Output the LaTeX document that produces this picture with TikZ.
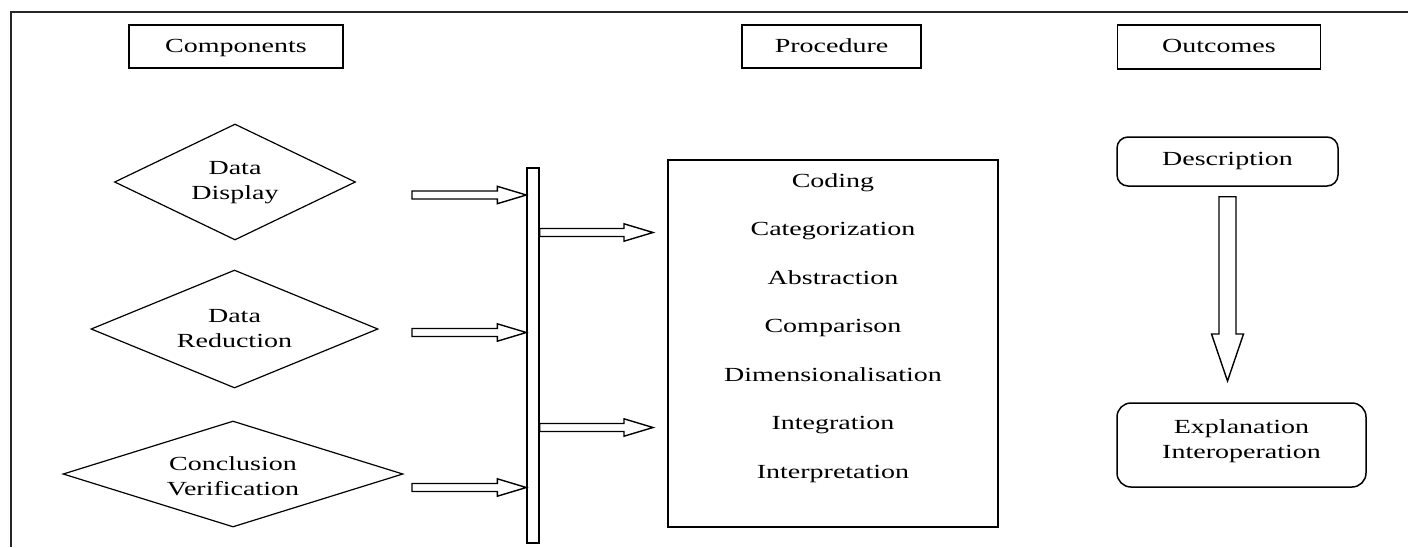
\documentclass[tikz,border=0pt]{standalone}
\usepackage{fontspec}
\setmainfont{Liberation Serif}[FakeStretch=1.4]
\usetikzlibrary{shapes.geometric,calc}
\tikzset{
  hdr/.style={draw, line width=1.6pt, inner sep=0pt, text height=14pt, text depth=3pt},
  dia/.style={draw, diamond, line width=1.2pt, inner sep=0pt},
  lbl/.style={align=center, inner sep=0pt},
  item/.style={anchor=base, inner sep=0pt},
  rbox/.style={draw, rounded corners=11pt, line width=1.5pt, inner sep=0pt, align=center},
  pbox/.style={draw, line width=1.5pt, inner sep=0pt},
  blk/.style={draw, line width=1.4pt, fill=white, line join=miter},
  frame/.style={line width=1.8pt, color=black!85}
}
\newcommand{\hblk}[2]{%
  \draw[blk] let \p1=(#1), \p2=(#2) in
    (\x1,\y1+4pt) -- (\x2-29pt,\y1+4pt) -- (\x2-29pt,\y1+8.7pt) -- (\x2,\y1)
    -- (\x2-29pt,\y1-8.7pt) -- (\x2-29pt,\y1-4pt) -- (\x1,\y1-4pt) -- cycle;}
\newcommand{\vblk}[2]{%
  \draw[blk] let \p1=(#1), \p2=(#2) in
    (\x1-8.5pt,\y1) -- (\x1-8.5pt,\y2+47pt) -- (\x1-16pt,\y2+47pt) -- (\x1,\y2)
    -- (\x1+16pt,\y2+47pt) -- (\x1+8.5pt,\y2+47pt) -- (\x1+8.5pt,\y1) -- cycle;}
\begin{document}
\begin{tikzpicture}[x=1pt,y=-1pt,font=\fontsize{20}{25}\selectfont]
\useasboundingbox (0,0) rectangle (1408,547);
\draw[frame] (1408,12) -- (11,12) -- (11,547);

% headers
\node[hdr, minimum width=214pt, minimum height=43pt] (comp) at (236,46.5) {Components};
\node[hdr, minimum width=179pt, minimum height=43pt] (proc) at (831.5,46.5) {Procedure};
\node[hdr, minimum width=203pt, minimum height=44pt] (outc) at (1219,47) {Outcomes};

% diamonds
\node[dia, minimum width=241pt, minimum height=116pt] (dd) at (235,182) {};
\node[lbl] (ddt) at (235,183) {Data\\Display};
\node[dia, minimum width=287pt, minimum height=118pt] (dr) at (234.5,329) {};
\node[lbl] (drt) at (234.5,329) {Data\\Reduction};
\node[dia, minimum width=340pt, minimum height=106pt] (cv) at (233,474) {};
\node[lbl] (cvt) at (233,476) {Conclusion\\Verification};

% bar
\node[pbox, line width=1.4pt, minimum width=12pt, minimum height=375pt] (bar) at (533,355.5) {};

% procedure box
\node[pbox, minimum width=330pt, minimum height=367pt] (pbox) at (833,343.5) {};
\node[item] (p1) at (833,187) {Coding};
\node[item] (p2) at (833,235.5) {Categorization};
\node[item] (p3) at (833,284) {Abstraction};
\node[item] (p4) at (833,332.5) {Comparison};
\node[item] (p5) at (833,381) {Dimensionalisation};
\node[item] (p6) at (833,429.5) {Integration};
\node[item] (p7) at (833,478) {Interpretation};

% left arrows
\coordinate (a1) at (412,195);
\coordinate (a2) at (412,332.5);
\coordinate (a3) at (412,487.5);
\hblk{a1}{bar.west |- a1}
\hblk{a2}{bar.west |- a2}
\hblk{a3}{bar.west |- a3}

% right arrows
\coordinate (b1) at (653,232.5);
\coordinate (b2) at (653,427.5);
\hblk{bar.east |- b1}{b1}
\hblk{bar.east |- b2}{b2}

% outcomes
\node[rbox, minimum width=221pt, minimum height=49pt] (desc) at (1227.5,161.5) {Description};
\node[rbox, rounded corners=14pt, minimum width=249pt, minimum height=84pt] (expl) at (1241.5,445) {};
\node[lbl] (explt) at (1241.5,441.5) {Explanation\\Interoperation};
\coordinate (c1) at ($(desc.south)+(0,10)$);
\coordinate (c2) at (c1 |- 0,381);
\vblk{c1}{c2}
\end{tikzpicture}
\end{document}
